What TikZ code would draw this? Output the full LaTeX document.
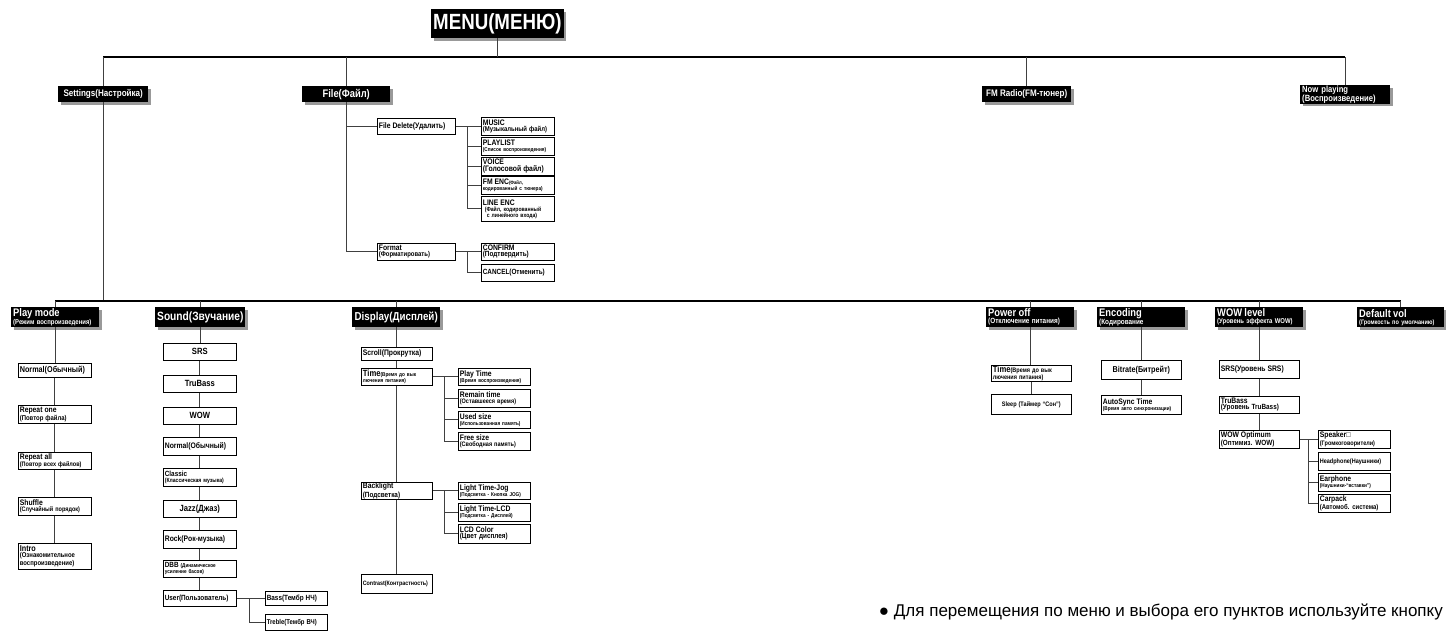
\documentclass[tikz,border=0pt]{standalone}
\usepackage{fontspec}
\setmainfont{Liberation Sans}[FakeStretch=0.85]
\newfontfamily\plainsans{Liberation Sans}
\usetikzlibrary{shadows}
\newcommand\fsz[1]{\fontsize{#1}{#1}\selectfont\bfseries}

\begin{document}
\begin{tikzpicture}[x=1pt, y=-1pt,
  hd/.style={fill=black, text=white, anchor=north west, inner xsep=2pt,
    inner ysep=0.5pt, align=left, font=\fsz{7},
    drop shadow={shadow xshift=2.5pt, shadow yshift=-2.5pt, fill=black!40, opacity=1}},
  sb/.style={draw=black, line width=0.7pt, fill=white, anchor=north west,
    inner xsep=1.5pt, inner ysep=0.5pt, align=left, text width=#1, font=\fsz{6},
    drop shadow={shadow xshift=1pt, shadow yshift=-1pt, fill=black!35, opacity=1}},
  sb/.default=70pt,
  ln/.style={draw=black!75, line width=0.8pt},
  bus/.style={draw=black, line width=1.1pt}]
\useasboundingbox (0,0) rectangle (1446,632);

% top level
\node[hd, minimum width=124pt, minimum height=29pt, align=center, font=\fsz{22}] (menu) at (431,9) {MENU(МЕНЮ)};
\node[hd, minimum width=90pt, minimum height=16pt, font=\fsz{9.5}] (set) at (58,86) {Settings(Настройка)};
\node[hd, minimum width=88pt, minimum height=16pt, font=\fsz{11}] (file) at (302,86) {File(Файл)};
\node[hd, minimum width=89pt, minimum height=16pt, font=\fsz{9.5}] (fm) at (982,86) {FM Radio(FM-тюнер)};
\node[hd, text width=86pt, minimum height=17pt, font=\fsz{9}] (now) at (1300,85) {Now playing\\(Воспроизведение)};

% settings
\node[hd, text width=84pt, minimum height=20pt] (pm) at (11,307) {{\fsz{11}Play mode}\\{\fsz{7}(Режим воспроизведения)}};
\node[hd, minimum width=90pt, minimum height=20pt, font=\fsz{12}] (snd) at (155,307) {Sound(Звучание)};
\node[hd, minimum width=88pt, minimum height=20pt, font=\fsz{11.5}] (dsp) at (352,307) {Display(Дисплей)};
\node[hd, text width=84pt, minimum height=20pt] (pwr) at (986,307) {{\fsz{11}Power off}\\{\fsz{7.5}(Отключение питания)}};
\node[hd, text width=84pt, minimum height=20pt] (enc) at (1097,307) {{\fsz{11}Encoding}\\{\fsz{7.5}(Кодирование}};
\node[hd, text width=84pt, minimum height=20pt] (wow) at (1215,307) {{\fsz{11}WOW level}\\{\fsz{7}(Уровень эффекта WOW)}};
\node[hd, text width=83pt, minimum height=20pt] (dvol) at (1357,307) {{\fsz{11}Default vol}\\{\fsz{6.5}(Громкость по умолчанию)}};

% file
\node[sb=75pt, minimum height=16pt] (fdel) at (377,118) {{\fsz{8}File Delete(Удалить)}};
\node[sb=75pt, minimum height=17pt] (fmt) at (377,243) {{\fsz{8}Format}\\{\fsz{7}(Форматировать)}};
\node[sb, minimum height=18pt] (music) at (481,117) {{\fsz{8}MUSIC}\\{\fsz{7}(Музыкальный файл)}};
\node[sb, minimum height=18pt] (plist) at (481,137) {{\fsz{8}PLAYLIST}\\{\fsz{5.5}(Список воспроизведения)}};
\node[sb, minimum height=18pt] (voice) at (481,157) {{\fsz{8}VOICE}\\{\fsz{8}(Голосовой файл)}};
\node[sb, minimum height=18pt] (fmenc) at (481,176) {{\fsz{8}FM ENC}{\fsz{5}(Файл,}\\{\fsz{5.5}кодированный с тюнера)}};
\node[sb, minimum height=25pt] (lenc) at (481,196) {{\fsz{8}LINE ENC}\\{\fsz{6}\hspace*{2pt}(Файл, кодированный}\\{\fsz{6}\hspace*{4pt}с линейного входа)}};
\node[sb, minimum height=17pt] (confirm) at (481,243) {{\fsz{8}CONFIRM}\\{\fsz{7.5}(Подтвердить)}};
\node[sb, minimum height=17pt] (cancel) at (481,264) {{\fsz{7.5}CANCEL(Отменить)}};

% play mode
\node[sb, minimum height=14pt] (pm1) at (18,363) {{\fsz{8.5}Normal(Обычный)}};
\node[sb, minimum height=18pt] (pm2) at (18,405) {{\fsz{8}Repeat one}\\{\fsz{7}(Повтор файла)}};
\node[sb, minimum height=17pt] (pm3) at (18,452) {{\fsz{8}Repeat all}\\{\fsz{6.5}(Повтор всех файлов)}};
\node[sb, minimum height=18pt] (pm4) at (18,497) {{\fsz{8}Shuffle}\\{\fsz{6.5}(Случайный порядок)}};
\node[sb, minimum height=26pt] (pm5) at (18,543) {{\fsz{8.5}Intro}\\{\fsz{7}(Ознакомительное}\\{\fsz{7}воспроизведение)}};

% sound
\node[sb, minimum height=17pt, align=center] (srs) at (163,343) {{\fsz{9}SRS}};
\node[sb, minimum height=17pt, align=center] (tru) at (163,375) {{\fsz{9}TruBass}};
\node[sb, minimum height=17pt, align=center] (wows) at (163,407) {{\fsz{9}WOW}};
\node[sb, minimum height=18pt] (nrm) at (163,437) {{\fsz{8}Normal(Обычный)}};
\node[sb, minimum height=18pt] (cls) at (163,468) {{\fsz{7.5}Classic}\\{\fsz{6}(Классическая музыка)}};
\node[sb, minimum height=17pt, align=center] (jazz) at (163,500) {{\fsz{9}Jazz(Джаз)}};
\node[sb, minimum height=18pt] (rock) at (163,530) {{\fsz{8}Rock(Рок-музыка)}};
\node[sb, minimum height=17pt] (dbb) at (163,560) {{\fsz{7.5}DBB }{\fsz{5.5}(Динамическое}\\{\fsz{5.5}усиление басов)}};
\node[sb, minimum height=16pt] (user) at (163,590) {{\fsz{7.5}User(Пользователь)}};
\node[sb=59pt, minimum height=14pt] (bass) at (265,591) {{\fsz{7.5}Bass(Тембр НЧ)}};
\node[sb=59pt, minimum height=16pt] (treb) at (265,614) {{\fsz{7}Treble(Тембр ВЧ)}};

% display
\node[sb=68pt, minimum height=13pt] (scroll) at (361,347) {{\fsz{8}Scroll(Прокрутка)}};
\node[sb=68pt, minimum height=17pt] (time) at (361,368) {{\fsz{9}Time}{\fsz{5.5}(Время до вык}\\{\fsz{5.5}лючения питания)}};
\node[sb=68pt, minimum height=17pt] (backl) at (361,482) {{\fsz{8}Backlight}\\{\fsz{7.5}(Подсветка)}};
\node[sb=68pt, minimum height=19pt] (contr) at (361,574) {{\fsz{6.3}Contrast(Контрастность)}};
\node[sb=69pt, minimum height=17pt] (ptime) at (458,368) {{\fsz{8}Play Time}\\{\fsz{5.5}(Время воспроизведения)}};
\node[sb=69pt, minimum height=18pt] (rtime) at (458,389) {{\fsz{8}Remain time}\\{\fsz{6.5}(Оставшееся время)}};
\node[sb=69pt, minimum height=17pt] (usize) at (458,411) {{\fsz{8}Used size}\\{\fsz{5.5}(Использованная память)}};
\node[sb=69pt, minimum height=18pt] (fsize) at (458,432) {{\fsz{8}Free size}\\{\fsz{6.5}(Свободная память)}};
\node[sb=69pt, minimum height=17pt] (ljog) at (458,482) {{\fsz{8}Light Time-Jog}\\{\fsz{5.5}(Подсветка - Кнопка JOG)}};
\node[sb=69pt, minimum height=18pt] (llcd) at (458,503) {{\fsz{8}Light Time-LCD}\\{\fsz{5.5}(Подсветка - Дисплей)}};
\node[sb=69pt, minimum height=19pt] (lcol) at (458,524) {{\fsz{8}LCD Color}\\{\fsz{7.5}(Цвет дисплея)}};

% power off, encoding
\node[sb=77pt, minimum height=14pt] (ptm) at (991,365) {{\fsz{9}Time}{\fsz{6.5}(Время до вык}\\{\fsz{6.5}лючения питания)}};
\node[sb=77pt, minimum height=20pt, align=center] (slp) at (991,394) {{\fsz{6.5}Sleep (Таймер “Сон”)}};
\node[sb=77pt, minimum height=19pt, align=center] (brate) at (1101,360) {{\fsz{8.5}Bitrate(Битрейт)}};
\node[sb=77pt, minimum height=19pt] (async) at (1101,395) {{\fsz{8}AutoSync Time}\\{\fsz{5.5}(Время авто синхронизации)}};

% wow level
\node[sb=77pt, minimum height=18pt] (wsrs) at (1219,360) {{\fsz{8}SRS(Уровень SRS)}};
\node[sb=77pt, minimum height=17pt] (wtru) at (1219,396) {{\fsz{8}TruBass}\\{\fsz{7.5}(Уровень TruBass)}};
\node[sb=77pt, minimum height=18pt] (wopt) at (1219,430) {{\fsz{8}WOW Optimum}\\{\fsz{7.5}(Оптимиз. WOW)}};
\node[sb=69pt, minimum height=18pt] (spk) at (1318,430) {{\fsz{8}Speaker□}\\{\fsz{6.5}(Громкоговорители)}};
\node[sb=69pt, minimum height=18pt] (hph) at (1318,452) {{\fsz{6.5}Headphone(Наушники)}};
\node[sb=69pt, minimum height=18pt] (eph) at (1318,473) {{\fsz{8}Earphone}\\{\fsz{5.5}(Наушники-“вставки”)}};
\node[sb=69pt, minimum height=18pt] (cpk) at (1318,494) {{\fsz{8}Carpack}\\{\fsz{7}(Автомоб. система)}};

\node[anchor=east, inner sep=0pt, font=\plainsans\fontsize{17}{17}\selectfont] (note) at (1443,612)
  {● Для перемещения по меню и выбора его пунктов используйте кнопку};

% connectors
\coordinate (bus1) at (0,57);
\coordinate (bus2) at (0,301);
\draw[bus] (set.north |- bus1) -- (now.north |- bus1);
\foreach \n in {set,file,fm,now} \draw[ln] (\n.north) -- (\n.north |- bus1);
\draw[ln] (menu.south) -- (menu.south |- bus1);
\draw[ln] (set.south) -- (set.south |- bus2);
\draw[bus] (pm.north |- bus2) -- (dvol.north |- bus2);
\foreach \n in {pm,snd,dsp,pwr,enc,wow,dvol} \draw[ln] (\n.north) -- (\n.north |- bus2);

\draw[ln] (file.south) |- (fmt.west);
\draw[ln] (fdel.west) -- (fdel.west -| file.south);
\draw[ln] (fdel.east) -- (music.west);
\path (fdel.east) -- ++(12,0) coordinate (fdj);
\draw[ln] (fdj) |- (lenc.west);
\foreach \n in {plist,voice,fmenc} \draw[ln] (\n.west) -- (\n.west -| fdj);
\draw[ln] (fmt.east) -- (confirm.west);
\path (fmt.east) -- ++(12,0) coordinate (fmj);
\draw[ln] (fmj) |- (cancel.west);

\foreach \a/\b in {pm/pm1,pm1/pm2,pm2/pm3,pm3/pm4,pm4/pm5,
    snd/srs,srs/tru,tru/wows,wows/nrm,nrm/cls,cls/jazz,jazz/rock,rock/dbb,dbb/user,
    dsp/scroll,scroll/time,time/backl,backl/contr,
    pwr/ptm,ptm/slp,enc/brate,brate/async,wow/wsrs,wsrs/wtru,wtru/wopt}
  \draw[ln] (\a.south) -- (\a.south |- \b.north);

\draw[ln] (user.east) -- (bass.west);
\path (user.east) -- ++(13,0) coordinate (uj);
\draw[ln] (uj) |- (treb.west);
\draw[ln] (time.east) -- (ptime.west);
\path (time.east) -- ++(12,0) coordinate (tj);
\draw[ln] (tj) |- (fsize.west);
\foreach \n in {rtime,usize} \draw[ln] (\n.west) -- (\n.west -| tj);
\draw[ln] (backl.east) -- (ljog.west);
\path (backl.east) -- ++(12,0) coordinate (bj);
\draw[ln] (bj) |- (lcol.west);
\draw[ln] (llcd.west) -- (llcd.west -| bj);
\draw[ln] (wopt.east) -- (spk.west);
\path (wopt.east) -- ++(9,0) coordinate (oj);
\draw[ln] (oj) |- (cpk.west);
\foreach \n in {hph,eph} \draw[ln] (\n.west) -- (\n.west -| oj);
\end{tikzpicture}
\end{document}
